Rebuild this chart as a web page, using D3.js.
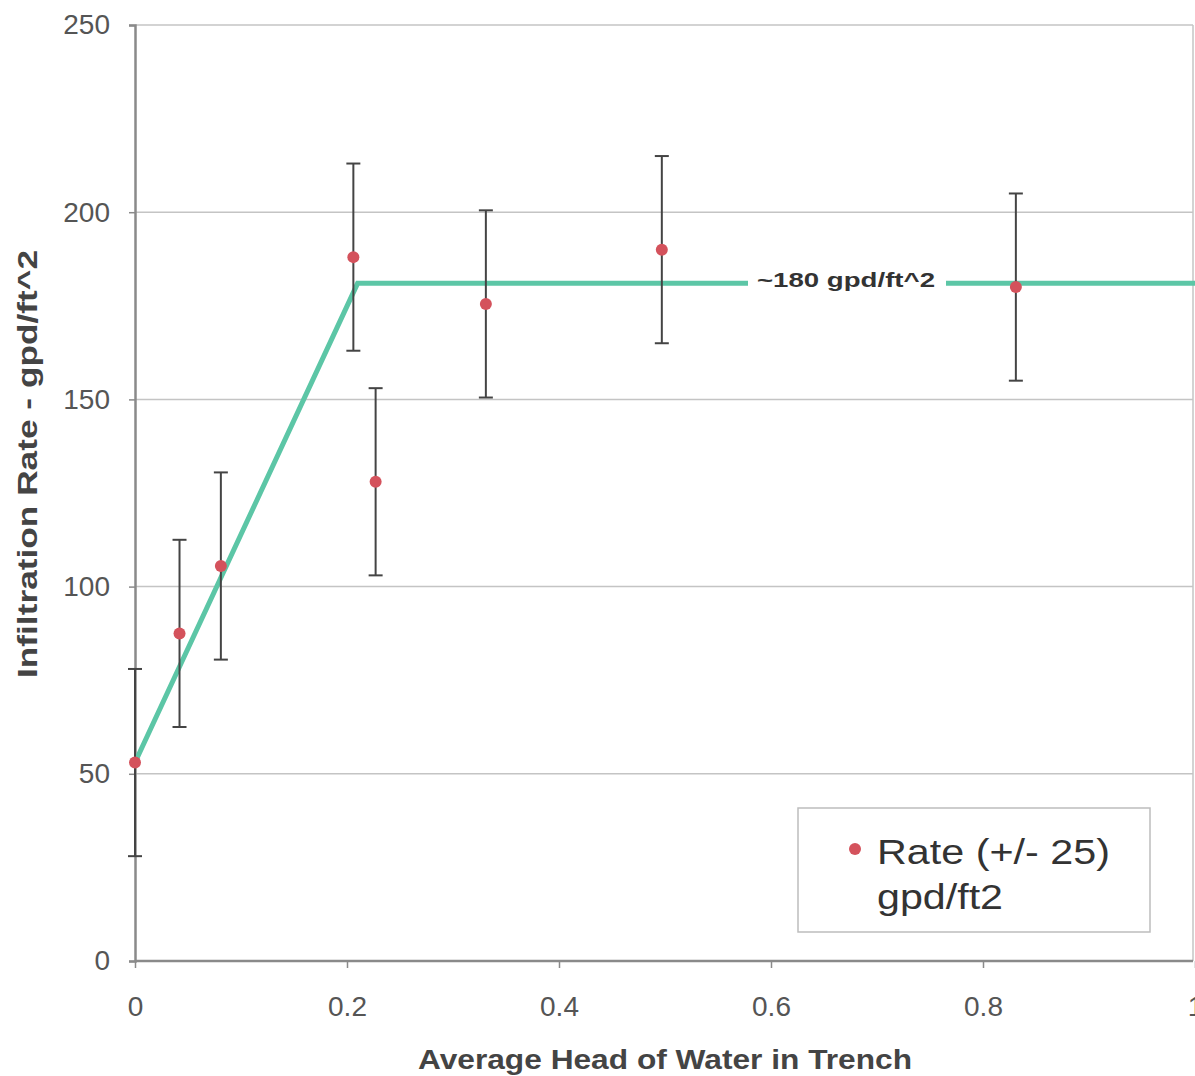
<!DOCTYPE html>
<html><head><meta charset="utf-8">
<script src="https://cdn.jsdelivr.net/npm/d3@7"></script>
<style>body{margin:0;background:#fff}svg{display:block}</style>
</head><body>
<svg id="c" width="1195" height="1076"></svg>
<script>
const headX = [0, 0.042, 0.081, 0.206, 0.227, 0.331, 0.497, 0.831];
const rateY = [53, 87.5, 105.5, 188, 128, 175.5, 190, 180];
const errPM = 25;
const fitX = [0, 0.21, 1];
const fitY = [53, 181, 181];
const xTicks = [0, 0.2, 0.4, 0.6, 0.8, 1];
const yTicks = [0, 50, 100, 150, 200, 250];
const fitLabel = "~180 gpd/ft^2";
const legendLines = ["Rate (+/- 25)", "gpd/ft2"];

const svg = d3.select("#c");
const x = d3.scaleLinear().domain([0, 1]).range([135, 1195]);
const y = d3.scaleLinear().domain([0, 250]).range([961, 25]);
const font = "Liberation Sans, Arial, sans-serif";

// gridlines
svg.append("g").selectAll("line").data(yTicks.filter(d => d > 0)).join("line")
  .attr("x1", x(0)).attr("x2", 1193).attr("y1", d => y(d)).attr("y2", d => y(d))
  .attr("stroke", "#c4c4c4").attr("stroke-width", 1.5);
svg.append("line").attr("x1", 1193).attr("x2", 1193).attr("y1", y(250)).attr("y2", y(0))
  .attr("stroke", "#c4c4c4").attr("stroke-width", 1.5);

// axes
const yAxis = d3.axisLeft(y).tickValues(yTicks).tickSize(6).tickPadding(19).tickFormat(d3.format("d"));
const gy = svg.append("g").attr("transform", `translate(${x(0)},0)`).call(yAxis);
const xAxis = d3.axisBottom(x).tickValues(xTicks).tickSize(7).tickPadding(31).tickFormat(d => d === 0 || d === 1 ? d3.format("d")(d) : d3.format(".1f")(d));
const gx = svg.append("g").attr("transform", `translate(0,${y(0)})`).call(xAxis);
[gx, gy].forEach(g => {
  g.select(".domain").attr("stroke", "#8a8a8a").attr("stroke-width", 2.5);
  g.selectAll(".tick line").attr("stroke", "#8a8a8a").attr("stroke-width", 1.5);
  g.selectAll(".tick text").attr("fill", "#555").style("font-family", font).style("font-size", "28px");
});
gx.select(".domain").attr("d", `M${x(0)},0H1193`);
gx.selectAll(".tick text").attr("dy", "0.62em");

// fit line
const line = d3.line().x(d => x(d[0])).y(d => y(d[1]));
svg.append("path").datum(fitX.map((v, i) => [v, fitY[i]])).attr("d", line)
  .attr("fill", "none").attr("stroke", "#5cc6a6").attr("stroke-width", 5).attr("stroke-linejoin", "miter");

// label with gap
const lx = 846, ly = y(fitY[2]);
svg.append("rect").attr("x", 748).attr("y", ly - 14).attr("width", 198).attr("height", 26).attr("fill", "#fff");
svg.append("text").attr("x", lx).attr("y", ly + 4).attr("text-anchor", "middle")
  .attr("textLength", 178).attr("lengthAdjust", "spacingAndGlyphs")
  .style("font-family", font).style("font-size", "20px").style("font-weight", "bold").attr("fill", "#333")
  .text(fitLabel);

// error bars
const pts = headX.map((v, i) => ({x: v, y: rateY[i]}));
const eb = svg.append("g").attr("stroke", "#444").attr("stroke-width", 2);
eb.selectAll("line.v").data(pts).join("line").attr("class", "v")
  .attr("x1", d => x(d.x)).attr("x2", d => x(d.x)).attr("y1", d => y(d.y - errPM)).attr("y2", d => y(d.y + errPM));
eb.selectAll("line.t").data(pts).join("line").attr("class", "t")
  .attr("x1", d => x(d.x) - 7).attr("x2", d => x(d.x) + 7).attr("y1", d => y(d.y + errPM)).attr("y2", d => y(d.y + errPM));
eb.selectAll("line.b").data(pts).join("line").attr("class", "b")
  .attr("x1", d => x(d.x) - 7).attr("x2", d => x(d.x) + 7).attr("y1", d => y(d.y - errPM)).attr("y2", d => y(d.y - errPM));

// markers
svg.append("g").selectAll("circle").data(pts).join("circle")
  .attr("cx", d => x(d.x)).attr("cy", d => y(d.y)).attr("r", 6).attr("fill", "#d4525c");

// legend
svg.append("rect").attr("x", 798).attr("y", 808).attr("width", 352).attr("height", 124)
  .attr("fill", "#fff").attr("stroke", "#bdbdbd").attr("stroke-width", 1.5);
svg.append("circle").attr("cx", 855).attr("cy", 849).attr("r", 6).attr("fill", "#d4525c");
svg.append("text").attr("x", 877).attr("y", 864).attr("textLength", 233).attr("lengthAdjust", "spacingAndGlyphs")
  .style("font-family", font).style("font-size", "35px").attr("fill", "#333").text(legendLines[0]);
svg.append("text").attr("x", 877).attr("y", 909).attr("textLength", 126).attr("lengthAdjust", "spacingAndGlyphs")
  .style("font-family", font).style("font-size", "35px").attr("fill", "#333").text(legendLines[1]);

// axis titles
svg.append("text").attr("x", 665).attr("y", 1069).attr("text-anchor", "middle")
  .attr("textLength", 494).attr("lengthAdjust", "spacingAndGlyphs")
  .style("font-family", font).style("font-size", "27px").style("font-weight", "bold").attr("fill", "#444")
  .text("Average Head of Water in Trench");
svg.append("text").attr("transform", "translate(37,464) rotate(-90)").attr("text-anchor", "middle")
  .attr("textLength", 428).attr("lengthAdjust", "spacingAndGlyphs")
  .style("font-family", font).style("font-size", "27px").style("font-weight", "bold").attr("fill", "#444")
  .text("Infiltration Rate - gpd/ft^2");
</script>
</body></html>
